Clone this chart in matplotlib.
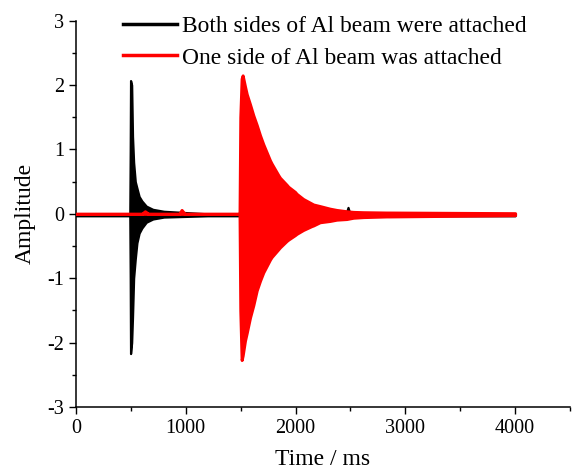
import matplotlib
matplotlib.use("Agg")
import matplotlib.pyplot as plt
from matplotlib.lines import Line2D
from matplotlib.ticker import MultipleLocator

plt.rcParams['font.family'] = ['Liberation Serif', 'DejaVu Serif']
plt.rcParams['axes.unicode_minus'] = False

# envelopes (time in ms, amplitude)
black_t = [0, 490, 494, 497, 507, 515, 525, 540, 555, 575, 600, 640, 700, 800,
           1000, 1200, 2460, 2478, 2495, 4000]
black_hi = [-0.01, -0.01, 1.0, 2.07, 2.0, 1.2, 0.8, 0.5, 0.4, 0.27, 0.2, 0.12,
            0.07, 0.04, 0.02, 0.0, 0.0, 0.1, 0.0, 0.0]
black_lo = [-0.03, -0.03, -1.0, -2.17, -2.0, -1.6, -1.0, -0.7, -0.45, -0.3,
            -0.22, -0.13, -0.08, -0.05, -0.04, -0.03, -0.03, -0.03, -0.03, -0.03]

red_t = [0, 600, 628, 660, 940, 962, 990, 1490, 1497, 1509, 1518, 1539, 1555,
         1585, 1615, 1646, 1676, 1706, 1767, 1782, 1843, 1858, 1919, 1934,
         1995, 2010, 2070, 2146, 2162, 2222, 2313, 2374, 2465, 2526, 2617,
         2829, 2860, 4000]
red_hi = [0.0, 0.0, 0.04, 0.0, 0.0, 0.06, 0.0, 0.0, 1.5, 2.1, 2.15, 1.98, 1.86,
          1.7, 1.53, 1.38, 1.22, 1.08, 0.83, 0.78, 0.6, 0.56, 0.45, 0.42,
          0.34, 0.31, 0.23, 0.16, 0.145, 0.12, 0.08, 0.06, 0.04, 0.03, 0.025,
          0.02, 0.02, 0.01]
red_lo = [0.0, 0.0, 0.0, 0.0, 0.0, 0.0, 0.0, 0.0, -1.5, -2.27, -2.2, -1.97,
          -1.85, -1.61, -1.42, -1.19, -1.04, -0.91, -0.71, -0.67, -0.55, -0.52,
          -0.42, -0.40, -0.33, -0.31, -0.25, -0.19, -0.18, -0.13, -0.11, -0.09,
          -0.08, -0.06, -0.05, -0.04, -0.04, -0.02]

labels = ['Both sides of Al beam were attached', 'One side of Al beam was attached']

fig = plt.figure(figsize=(5.74, 4.70), dpi=100)
ax = fig.add_axes([0.1324, 0.134, 0.8606, 0.822])

ax.fill_between(black_t, black_lo, black_hi, color='black', lw=1.6, zorder=2)
ax.fill_between(red_t, red_lo, red_hi, color='red', lw=2.2, zorder=3)

handles = [Line2D([], [], color='black', lw=2.5), Line2D([], [], color='red', lw=2.5)]
ax.legend(handles, labels, loc='upper left', bbox_to_anchor=(0.077, 1.038),
          frameon=False, fontsize=16.9, handlelength=2.3, handletextpad=0.2,
          labelspacing=0.44, borderaxespad=0)

ax.set_xlim(0, 4500)
ax.set_ylim(-3, 3)
ax.xaxis.set_major_locator(MultipleLocator(1000))
ax.xaxis.set_minor_locator(MultipleLocator(500))
ax.yaxis.set_major_locator(MultipleLocator(1))
ax.yaxis.set_minor_locator(MultipleLocator(0.5))
ax.tick_params(which='major', length=5, width=1, labelsize=14.5, direction='out')
ax.tick_params(which='minor', length=3, width=1, direction='out')
for s in ['top', 'right']:
    ax.spines[s].set_visible(False)
for s in ['left', 'bottom']:
    ax.spines[s].set_linewidth(1.1)

ax.set_xlabel('Time / ms', fontsize=17, labelpad=8)
ax.set_ylabel('Amplitude', fontsize=17, labelpad=8.5)

fig.savefig('out.png', dpi=100)
